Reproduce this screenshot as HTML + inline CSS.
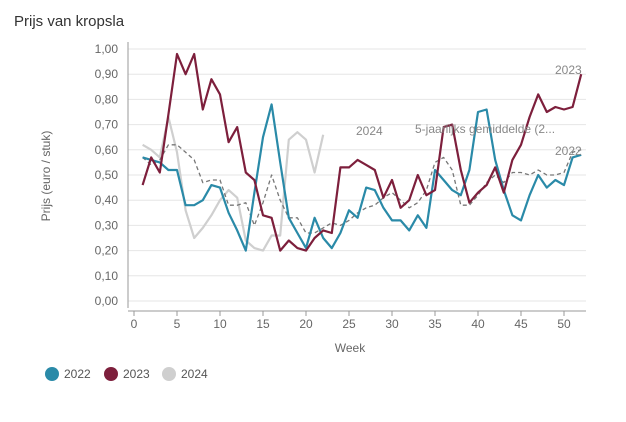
<!DOCTYPE html>
<html><head><meta charset="utf-8"><style>
body{margin:0;background:#fff;width:626px;height:417px;overflow:hidden;font-family:"Liberation Sans",sans-serif}
</style></head><body>
<svg id="c" width="626" height="417" xmlns="http://www.w3.org/2000/svg" font-family="Liberation Sans, sans-serif">
<text x="14" y="26" font-size="15" fill="#333">Prijs van kropsla</text>
<g id="grid"></g>
<text transform="translate(50,176) rotate(-90)" font-size="12" fill="#666" text-anchor="middle">Prijs (euro / stuk)</text>
<text x="350" y="352" font-size="12" fill="#666" text-anchor="middle">Week</text>
<g id="series"></g>
<text x="356" y="135" font-size="12" fill="#888">2024</text>
<text x="415" y="133" font-size="12" fill="#888">5-jaarlijks gemiddelde (2...</text>
<text x="555" y="74" font-size="12" fill="#888">2023</text>
<text x="555" y="155" font-size="12" fill="#888">2022</text>
<circle cx="52" cy="374" r="7" fill="#2a8aa8"/><text x="64" y="378" font-size="12" fill="#555">2022</text>
<circle cx="111" cy="374" r="7" fill="#7d1f3c"/><text x="123" y="378" font-size="12" fill="#555">2023</text>
<circle cx="169" cy="374" r="7" fill="#cfcfcf"/><text x="181" y="378" font-size="12" fill="#555">2024</text>
</svg>
<script>
var NS="http://www.w3.org/2000/svg";
function el(t,a,p){var e=document.createElementNS(NS,t);for(var k in a)e.setAttribute(k,a[k]);p.appendChild(e);return e;}
var g=document.getElementById('grid'),s=document.getElementById('series');
function X(w){return 134+8.6*w}function Y(v){return 301-v*252}
for(var i=0;i<=10;i++){var y=Y(i/10);el('line',{x1:128,x2:586,y1:y,y2:y,stroke:'#e6e6e6','stroke-width':1},g);
var t=el('text',{x:118,y:y+4,'font-size':12,fill:'#666','text-anchor':'end'},g);t.textContent=(i/10).toFixed(2).replace('.',',');}
el('line',{x1:128,x2:128,y1:42,y2:308,stroke:'#999'},g);
el('line',{x1:128,x2:586,y1:311,y2:311,stroke:'#999'},g);
for(var w=0;w<=50;w+=5){el('line',{x1:X(w),x2:X(w),y1:311,y2:316,stroke:'#999'},g);var t=el('text',{x:X(w),y:328,'font-size':12,fill:'#666','text-anchor':'middle'},g);t.textContent=w;}
var d22=[0.57,0.56,0.55,0.52,0.52,0.38,0.38,0.40,0.46,0.45,0.35,0.28,0.20,0.43,0.65,0.78,0.55,0.33,0.27,0.21,0.33,0.25,0.21,0.27,0.36,0.33,0.45,0.44,0.37,0.32,0.32,0.28,0.34,0.29,0.52,0.48,0.44,0.42,0.52,0.75,0.76,0.56,0.44,0.34,0.32,0.42,0.50,0.45,0.48,0.46,0.57,0.58];
var d23=[0.46,0.57,0.51,0.74,0.98,0.90,0.98,0.76,0.88,0.82,0.63,0.69,0.51,0.48,0.34,0.33,0.20,0.24,0.21,0.20,0.25,0.28,0.27,0.53,0.53,0.56,0.54,0.52,0.41,0.48,0.37,0.40,0.50,0.42,0.44,0.69,0.70,0.52,0.39,0.43,0.46,0.53,0.43,0.56,0.62,0.73,0.82,0.75,0.77,0.76,0.77,0.90];
var d24=[0.62,0.60,0.57,0.73,0.59,0.36,0.25,0.29,0.34,0.40,0.44,0.41,0.24,0.21,0.20,0.26,0.26,0.64,0.67,0.64,0.51,0.66];
var avg=[0.57,0.54,0.56,0.62,0.62,0.59,0.56,0.47,0.48,0.48,0.38,0.38,0.39,0.30,0.39,0.50,0.40,0.33,0.33,0.27,0.27,0.29,0.31,0.30,0.32,0.35,0.37,0.38,0.41,0.43,0.40,0.37,0.39,0.44,0.55,0.57,0.52,0.38,0.38,0.42,0.47,0.50,0.47,0.51,0.51,0.50,0.52,0.50,0.50,0.51,0.59,0.60];
function pl(d,c,wd,dash){var p=d.map(function(v,i){return X(i+1).toFixed(1)+','+Y(v).toFixed(1)}).join(' ');var a={points:p,fill:'none',stroke:c,'stroke-width':wd,'stroke-linejoin':'round'};if(dash)a['stroke-dasharray']=dash;el('polyline',a,s);}
pl(d24,'#cfcfcf',2.2);pl(avg,'#777',1.3,'4,3');pl(d22,'#2a8aa8',2.2);pl(d23,'#7d1f3c',2.2);
</script>
</body></html>
